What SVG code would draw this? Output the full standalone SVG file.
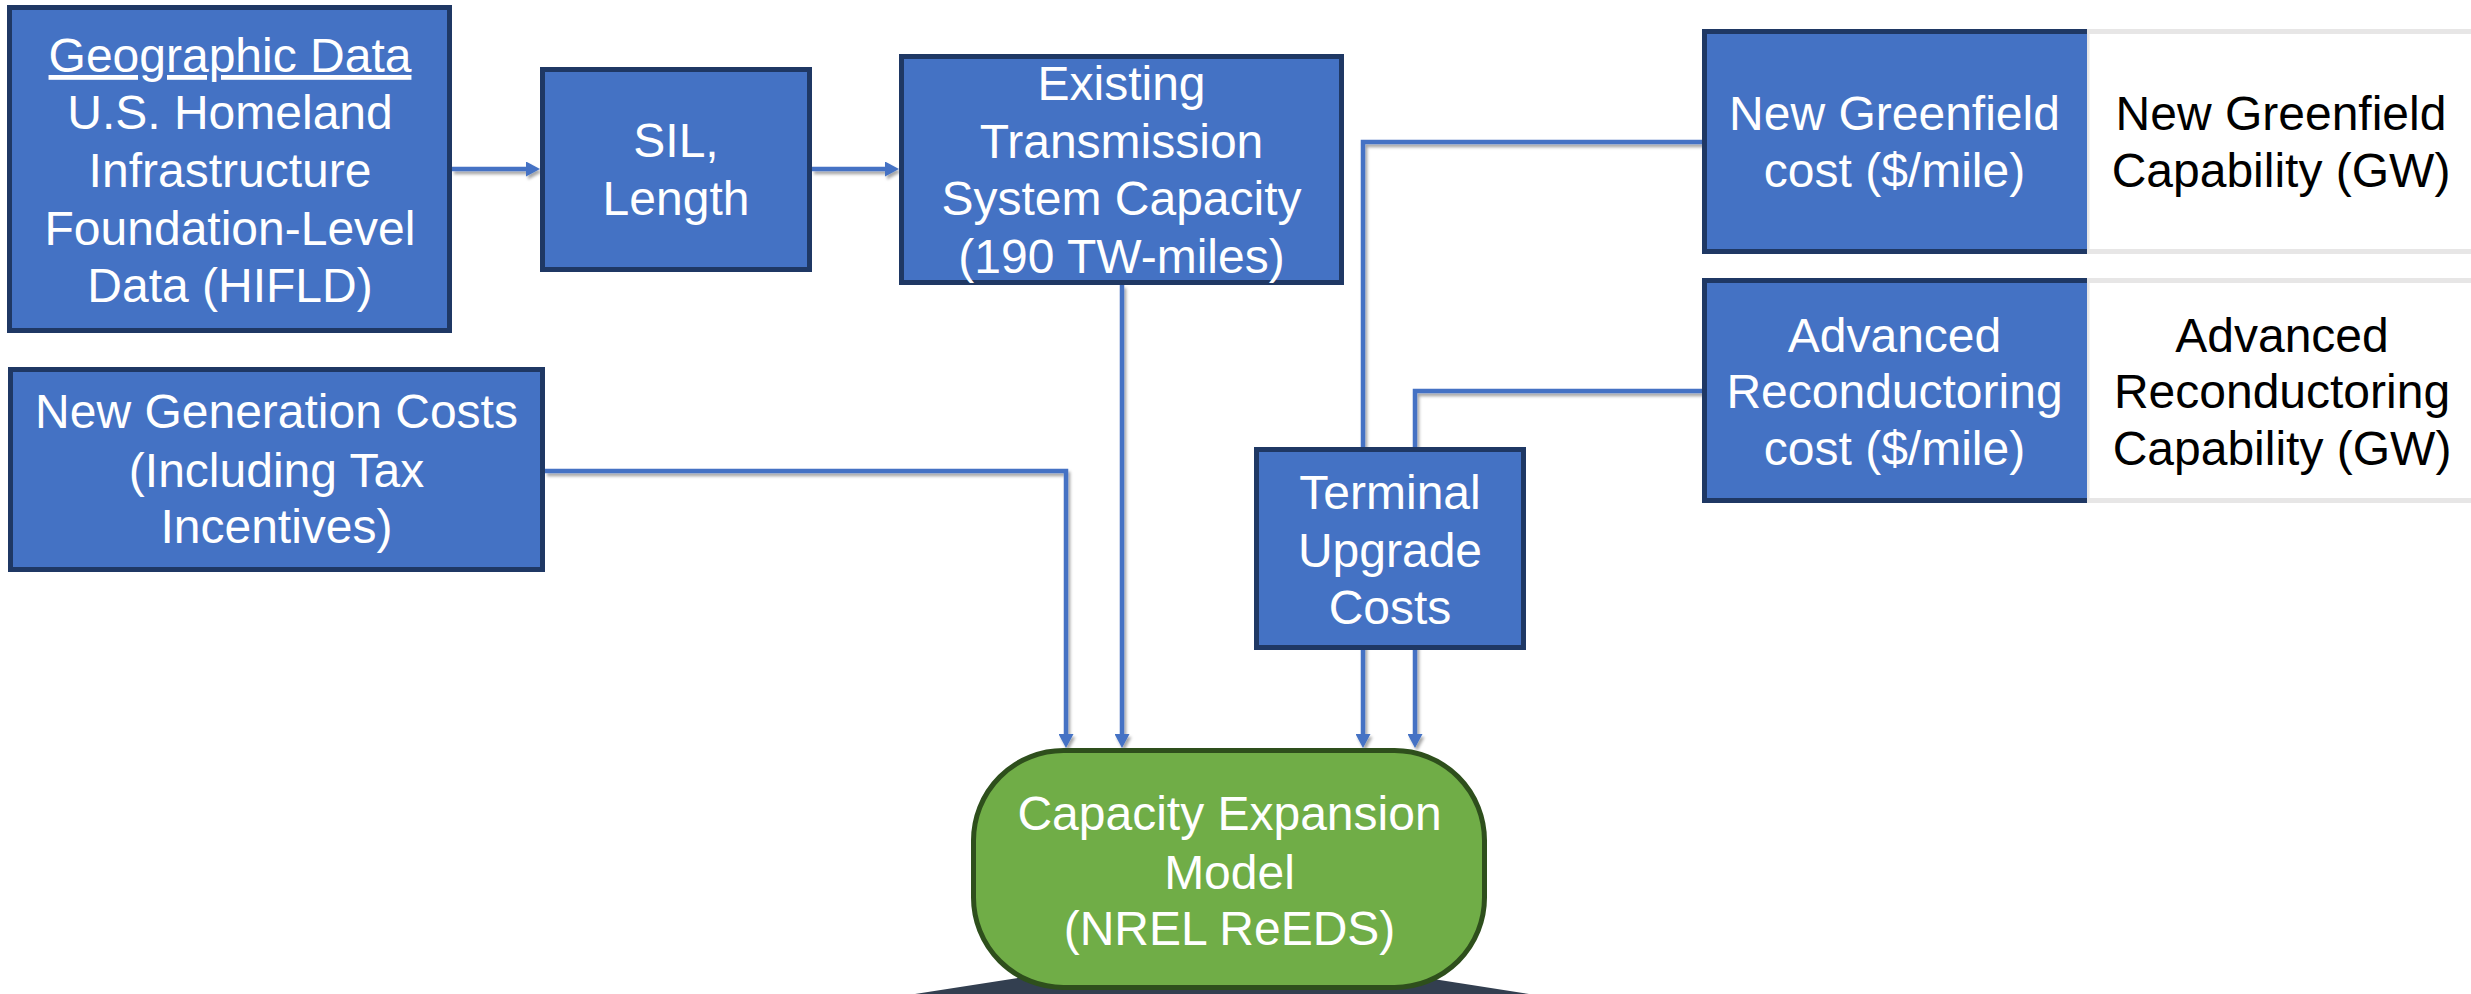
<svg xmlns="http://www.w3.org/2000/svg" width="2471" height="994" viewBox="0 0 2471 994">
  <style>
    .box { fill: #4472C4; stroke: #1F3864; stroke-width: 5; }
    .t { font-family: "Liberation Sans", Arial, sans-serif; font-size: 48px; fill: #FFFFFF; text-anchor: middle; }
    .tb { font-family: "Liberation Sans", Arial, sans-serif; font-size: 48px; fill: #000000; text-anchor: middle; }
    .conn { fill: none; stroke: #4472C4; stroke-width: 4.5; stroke-linejoin: miter; }
    .cell { fill: #FFFFFF; stroke: #E7E6E6; stroke-width: 5; }
  </style>
  <defs>
    <marker id="arrow" markerUnits="userSpaceOnUse" markerWidth="14" markerHeight="15" refX="2" refY="7.5" orient="auto">
      <path d="M0,0 L14,7.5 L0,15 z" fill="#4472C4"/>
    </marker>
    <filter id="shadow" x="-10%" y="-10%" width="120%" height="120%">
      <feDropShadow dx="2" dy="3" stdDeviation="1.5" flood-color="#000000" flood-opacity="0.35"/>
    </filter>
  </defs>

  <rect width="2471" height="994" fill="#FFFFFF"/>

  <!-- dark base behind model -->
  <polygon id="base" points="915,994 1222,946 1529,994" fill="#333F50"/>

  <g id="connectors" filter="url(#shadow)">
    <path class="conn" d="M452,169 L528,169" marker-end="url(#arrow)"/>
    <path class="conn" d="M812,169 L887,169" marker-end="url(#arrow)"/>
    <path class="conn" d="M545,471 L1066,471 L1066,736" marker-end="url(#arrow)"/>
    <path class="conn" d="M1122,285 L1122,736" marker-end="url(#arrow)"/>
    <path class="conn" d="M1703,142 L1363,142 L1363,736" marker-end="url(#arrow)"/>
    <path class="conn" d="M1703,391 L1415,391 L1415,736" marker-end="url(#arrow)"/>
  </g>

  <g id="geographic">
    <rect class="box" x="9.5" y="7.5" width="440" height="323"/>
    <text class="t" x="230" y="72" text-decoration="underline">Geographic Data</text>
    <text class="t" x="230" y="129">U.S. Homeland</text>
    <text class="t" x="230" y="187">Infrastructure</text>
    <text class="t" x="230" y="245">Foundation-Level</text>
    <text class="t" x="230" y="302">Data (HIFLD)</text>
  </g>

  <g id="sil">
    <rect class="box" x="542.5" y="69.5" width="267" height="200"/>
    <text class="t" x="676" y="157">SIL,</text>
    <text class="t" x="676" y="215">Length</text>
  </g>

  <g id="existing">
    <rect class="box" x="901.5" y="56.5" width="440" height="226"/>
    <text class="t" x="1121.5" y="100">Existing</text>
    <text class="t" x="1121.5" y="158">Transmission</text>
    <text class="t" x="1121.5" y="215">System Capacity</text>
    <text class="t" x="1121.5" y="273">(190 TW-miles)</text>
  </g>

  <g id="newgen">
    <rect class="box" x="10.5" y="369.5" width="532" height="200"/>
    <text class="t" x="276.5" y="428">New Generation Costs</text>
    <text class="t" x="276.5" y="487">(Including Tax</text>
    <text class="t" x="276.5" y="543">Incentives)</text>
  </g>

  <g id="greenfield-capability">
    <rect class="cell" x="2087" y="31.5" width="400" height="220"/>
    <text class="tb" x="2281" y="130">New Greenfield</text>
    <text class="tb" x="2281" y="187">Capability (GW)</text>
  </g>

  <g id="greenfield-cost">
    <rect x="1702" y="29" width="385" height="225" fill="#4472C4"/>
    <path d="M2087,31.5 L1704.5,31.5 L1704.5,251.5 L2087,251.5" fill="none" stroke="#1F3864" stroke-width="5"/>
    <text class="t" x="1894.5" y="130">New Greenfield</text>
    <text class="t" x="1894.5" y="187">cost ($/mile)</text>
  </g>

  <g id="reconductoring-capability">
    <rect class="cell" x="2087" y="280.5" width="400" height="220"/>
    <text class="tb" x="2282" y="352">Advanced</text>
    <text class="tb" x="2282" y="408">Reconductoring</text>
    <text class="tb" x="2282" y="465">Capability (GW)</text>
  </g>

  <g id="reconductoring-cost">
    <rect x="1702" y="278" width="385" height="225" fill="#4472C4"/>
    <path d="M2087,280.5 L1704.5,280.5 L1704.5,500.5 L2087,500.5" fill="none" stroke="#1F3864" stroke-width="5"/>
    <text class="t" x="1894.5" y="352">Advanced</text>
    <text class="t" x="1894.5" y="408">Reconductoring</text>
    <text class="t" x="1894.5" y="465">cost ($/mile)</text>
  </g>

  <g id="terminal">
    <rect class="box" x="1256.5" y="449.5" width="267" height="198"/>
    <text class="t" x="1390" y="509">Terminal</text>
    <text class="t" x="1390" y="567">Upgrade</text>
    <text class="t" x="1390" y="624">Costs</text>
  </g>

  <g id="model">
    <rect x="973.5" y="750.5" width="511" height="237" rx="90" ry="90" fill="#70AD47" stroke="#2E4F1C" stroke-width="5"/>
    <text class="t" x="1229.5" y="830">Capacity Expansion</text>
    <text class="t" x="1229.5" y="889">Model</text>
    <text class="t" x="1229.5" y="945">(NREL ReEDS)</text>
  </g>
</svg>
